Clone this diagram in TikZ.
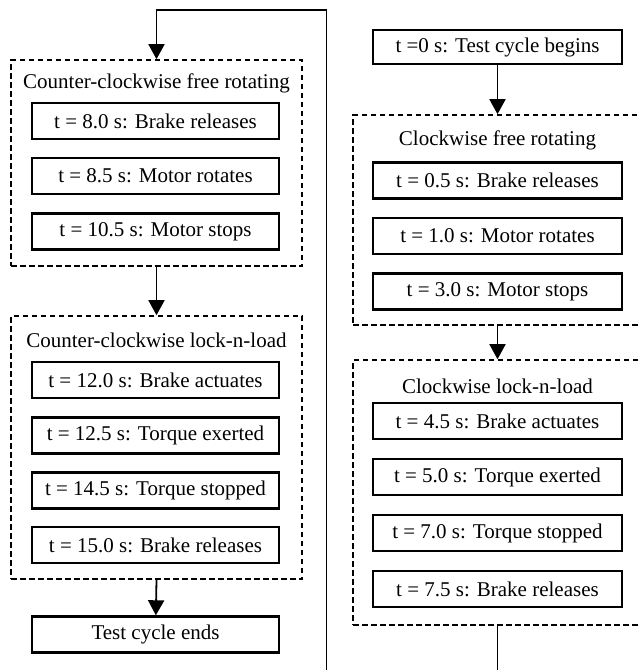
\documentclass[tikz,border=0pt]{standalone}
\usepackage{fontspec}
\setmainfont{Liberation Serif}
\usetikzlibrary{arrows.meta}
\begin{document}
\begin{tikzpicture}[x=1pt,y=-1pt,
 evbox/.style={draw,line width=2.4pt,minimum width=247pt,minimum height=36pt,inner sep=0pt,font=\fontsize{21}{24}\selectfont},
 group/.style={draw,line width=1.6pt,dash pattern=on 5.5pt off 3.5pt,inner sep=0pt},
 ttl/.style={font=\fontsize{21}{24}\selectfont,inner sep=0pt},
 conn/.style={line width=1.8pt},
 arr/.style={conn,-{Triangle[width=16pt,length=15pt]}}]
\clip (0,0) rectangle (639,670);
% left column
\node[group,minimum width=291pt,minimum height=206pt] (g1) at (156.5,163) {};
\node[ttl] (g1t) at (156.5,83) {Counter-clockwise free rotating};
\node[evbox] (a1) at (155.5,121) {t = 8.0 s: Brake releases};
\node[evbox] (a2) at (155.5,176) {t = 8.5 s: Motor rotates};
\node[evbox] (a3) at (155.5,231.5) {t = 10.5 s: Motor stops};
\node[group,minimum width=291pt,minimum height=263pt] (g2) at (156.5,447.5) {};
\node[ttl] (g2t) at (156.5,340) {Counter-clockwise lock-n-load};
\node[evbox] (b1) at (155.5,380) {t = 12.0 s: Brake actuates};
\node[evbox] (b2) at (155.5,435.5) {t = 12.5 s: Torque exerted};
\node[evbox] (b3) at (155.5,490.5) {t = 14.5 s: Torque stopped};
\node[evbox] (b4) at (155.5,545) {t = 15.0 s: Brake releases};
\node[evbox] (end) at (155.5,634.5) {Test cycle ends};
% right column
\node[evbox,minimum width=249pt,minimum height=34pt] (start) at (497.5,47) {t =0 s: Test cycle begins};
\node[group,minimum width=289pt,minimum height=210pt] (g3) at (497.5,220) {};
\node[ttl] (g3t) at (497.5,140) {Clockwise free rotating};
\node[evbox,minimum width=249pt] (c1) at (497.5,180.5) {t = 0.5 s: Brake releases};
\node[evbox,minimum width=249pt] (c2) at (497.5,236) {t = 1.0 s: Motor rotates};
\node[evbox,minimum width=249pt] (c3) at (497.5,291.5) {t = 3.0 s: Motor stops};
\node[group,minimum width=289pt,minimum height=265pt] (g4) at (497.5,492.5) {};
\node[ttl] (g4t) at (497.5,386) {Clockwise lock-n-load};
\node[evbox,minimum width=249pt] (d1) at (497.5,421) {t = 4.5 s: Brake actuates};
\node[evbox,minimum width=249pt] (d2) at (497.5,477) {t = 5.0 s: Torque exerted};
\node[evbox,minimum width=249pt] (d3) at (497.5,533) {t = 7.0 s: Torque stopped};
\node[evbox,minimum width=249pt] (d4) at (497.5,589) {t = 7.5 s: Brake releases};
% connectors
\coordinate (p1) at (497.5,700);
\coordinate (p2) at (326.5,700);
\coordinate (p3) at (326.5,10);
\coordinate (p4) at (156.5,10);
\draw[arr] (start) -- (g3.north);
\draw[arr] (g3.south) -- (g4.north);
\draw[arr] (g4.south) -- (p1) -- (p2) -- (p3) -- (p4) -- (g1.north);
\draw[arr] (g1.south) -- (g2.north);
\draw[arr] (g2.south) -- (end);
\end{tikzpicture}
\end{document}
